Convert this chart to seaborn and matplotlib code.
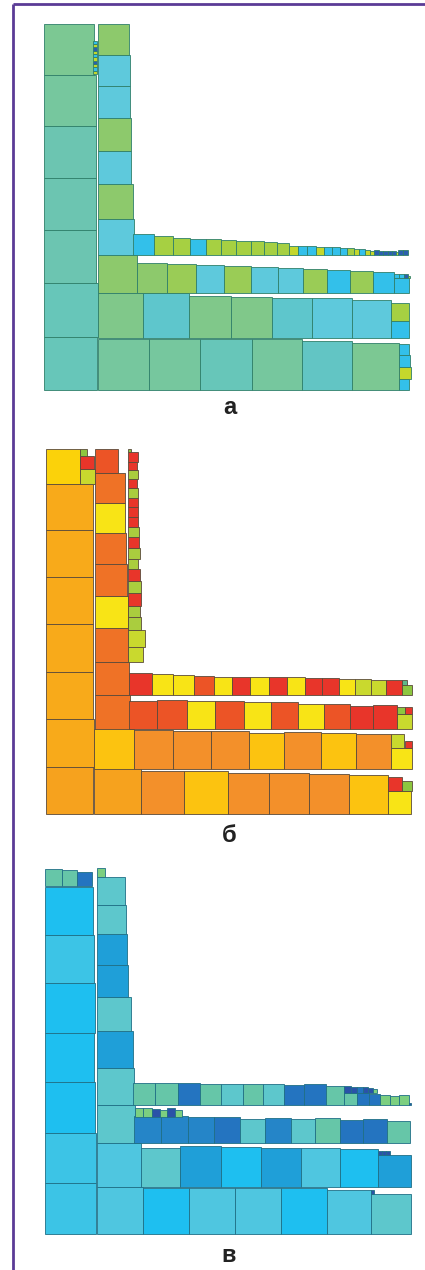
import numpy as np
import matplotlib
matplotlib.use("Agg")
import matplotlib.pyplot as plt
import seaborn as sns

sns.set_theme(style="white")
plt.rcParams['font.family'] = ['Liberation Sans', 'DejaVu Sans']

# ---------------- DATA (square sizes along each strip, colour codes) ----------------
# Panel а
a_colA = [160, 162, 157, 156, 156, 155, 151]
a_colA_c = ['ta', 'ta', 'tb', 'tb', 'tb', 'tg', 'tg2']
a_tiny = [10, 10, 10, 10, 10, 10, 10, 10, 10, 10]
a_tiny_c = ['ye', 'bc', 'ye', 'db', 'ye', 'bc', 'ye', 'db', 'ye', 'bc']
a_colD = [115, 108, 104, 99, 99, 96, 94, 92]
a_colD_c = ['gr', 'cy', 'gr', 'cy', 'gr', 'cy', 'cy', 'gr']
a_row1 = [154, 154, 154, 152, 148, 141]
a_row1_c = ['tg', 'tg', 'ta', 'tg', 'gt', 'tg2']
a_row1_end = [32, 38, 35, 32]
a_row1_end_c = ['bc', 'ye', 'bc', 'bc']
a_row2 = [135, 136, 127, 124, 120, 120, 116]
a_row2_c = ['gl', 'ct', 'gl', 'gl', 'ct', 'cy', 'cy']
a_row2_end = [53, 53]
a_row2_end_c = ['bc', 'yg']
a_row3 = [90, 88, 84, 81, 80, 77, 72, 69, 67, 65]
a_row3_c = ['gr', 'gy', 'cy', 'gy', 'cy', 'cy', 'gy', 'bc', 'gy', 'bc']
a_row3_end = [45]
a_row3_end_c = ['bc']
a_row3_top = [14, 14, 14, 6]
a_row3_top_c = ['bc', 'bc', 'db', 'ye']
a_row4 = [63, 57, 50, 47, 47, 45, 43, 41, 38, 36, 28, 26, 27, 24, 24,
          23, 21, 21, 17, 17, 15, 12, 15, 13, 13, 12, 12, 8, 15, 15]
a_row4_c = ['bc', 'yg', 'yg', 'bc', 'yg', 'yg', 'yg', 'yg', 'yg', 'yg', 'ye', 'bc', 'bc', 'ye', 'bc',
            'bc', 'bc', 'yg', 'ye', 'bc', 'ye', 'ye', 'db', 'db', 'db', 'db', 'db', 'ye', 'db', 'db']

# Panel б
b_colA = [142, 143, 142, 142, 141, 141, 140]
b_colA_c = ['am2', 'am', 'am', 'am', 'am', 'am', 'am']
b_top = [103]
b_top_c = ['gy']
b_top_col = [43, 40, 20]
b_top_col_c = ['yg', 're', 'gr']
b_colB = [104, 101, 100, 98, 95, 93, 91, 90, 70]
b_colB_c = ['or2', 'or2', 'or2', 'ye', 'or2', 'or2', 'ye', 'or2', 'ro']
b_colC = [45, 50, 38, 35, 37, 38, 36, 28, 35, 32, 31, 30, 28, 29, 28, 27, 28, 25, 30, 7]
b_colC_c = ['yg', 'yg', 'lg', 'lg', 're', 'lg', 're', 'lg', 'lg', 're', 'lg', 're', 're', 're',
            'lg', 're', 'lg', 're', 're', 'gr']
b_row1 = [140, 130, 130, 123, 122, 119, 117]
b_row1_c = ['am2', 'or', 'go', 'or', 'or', 'or', 'go']
b_row1_end = [70, 42]
b_row1_end_c = ['ye', 're']
b_row1_bit = [29]
b_row1_bit_c = ['gr']
b_row2 = [118, 117, 114, 114, 107, 109, 106, 104]
b_row2_c = ['go', 'or', 'or', 'or', 'go', 'or', 'go', 'or']
b_row2_end = [63, 40]
b_row2_end_c = ['ye', 'yg']
b_row2_bit = [21]
b_row2_bit_c = ['re']
b_row3 = [85, 88, 85, 86, 82, 82, 77, 77, 71, 72]
b_row3_c = ['ro', 'ro', 'ye', 'ro', 'ye', 'ro', 'ye', 'ro', 're', 're']
b_row3_end = [45]
b_row3_end_c = ['yg']
b_row3_bit = [23, 21]
b_row3_bit_c = ['gr', 're']
b_row4 = [68, 65, 62, 59, 54, 56, 55, 54, 54, 51, 51, 48, 48, 46, 47]
b_row4_c = ['re', 'ye', 'ye', 'ro', 'ye', 're', 'ye', 're', 'ye', 're', 're', 'ye', 'yg', 'yg', 're']
b_row4_end = [31, 15]
b_row4_end_c = ['gr', 'tl']

# Panel в
v_colA = [152, 152, 151, 148, 149, 146, 144]
v_colA_c = ['c1', 'c1', 'c2', 'c2', 'c2', 'c1', 'c2']
v_top = [50, 47, 43]
v_top_c = ['g1', 'g1', 'b2']
v_row1 = [140, 138, 138, 137, 137, 132, 121]
v_row1_c = ['c3', 'c2', 'c3', 'c3', 'c2', 'c3', 'tq']
v_row1_bit = [10]
v_row1_bit_c = ['b3']
v_row2 = [132, 119, 123, 120, 118, 117, 116, 98]
v_row2_c = ['c3', 'tq', 'bl', 'c2', 'bl', 'c3', 'c2', 'bl']
v_row2_bit = [12, 12, 10]
v_row2_bit_c = ['b3', 'b3', 'b3']
v_colB = [115, 112, 110, 103, 95, 92, 88, 85, 26]
v_colB_c = ['tq', 'tq', 'bl', 'tq', 'bl', 'bl', 'tq', 'tq', 'g2']
v_row3 = [81, 81, 78, 78, 74, 77, 72, 75, 71, 72, 68]
v_row3_c = ['bm', 'bm', 'bm', 'b2', 'tq', 'bm', 'tq', 'g1', 'b2', 'b2', 'g1']
v_row3_top = [25, 26, 24, 20, 25, 20]
v_row3_top_c = ['g2', 'g2', 'b3', 'g2', 'b3', 'g2']
v_row4 = [66, 67, 67, 64, 64, 62, 62, 61, 64, 56, 37, 37, 33, 30, 28, 29, 6]
v_row4_c = ['g1', 'g1', 'b2', 'g1', 'tq', 'g1', 'tq', 'b2', 'b2', 'g1', 'g1', 'b2', 'b2',
            'g2', 'g2', 'g2', 'b3']
v_row4_top = [20, 18, 17, 17, 15, 10]
v_row4_top_c = ['b3', 'b3', 'b2', 'b3', 'b3', 'g2']

panel_labels = ['а', 'б', 'в']

# ---------------- STYLE / LAYOUT ----------------
pal_a = {'ta': '#67c6b9', 'tb': '#6cc5b1', 'tg': '#76c79e', 'tg2': '#7cc893', 'gt': '#62c5c4',
         'gl': '#80c88a', 'gr': '#8dc96c', 'gy': '#9acc56', 'cy': '#5ec9dc', 'ct': '#5ec6cc',
         'bc': '#33c0ea', 'yg': '#a6d042', 'ye': '#c4d72c', 'db': '#2a5fae'}
pal_b = {'am': '#f8aa1a', 'am2': '#f6a21e', 'go': '#fcc310', 'gy': '#fbd20a', 'or': '#f3902a',
         'or2': '#ef7226', 'ro': '#ec5426', 're': '#e8352a', 'ye': '#f8e416', 'yg': '#c9d92e',
         'lg': '#aacd3e', 'gr': '#8dc63f', 'tl': '#5fb88a'}
pal_v = {'c1': '#3cc4e6', 'c2': '#1ebff0', 'c3': '#4fc6e0', 'tq': '#5dc7cc', 'bl': '#1f9fd8',
         'bm': '#2585c8', 'b2': '#2474c0', 'b3': '#2a52a8', 'g1': '#66c6a8', 'g2': '#7ccf80'}

# (kind, x0, base, sizes, codes) in panel units (3 units = 1 px)
strips_a = [
    ('col', 132, 1170, a_colA, a_colA_c),
    ('col', 280, 222, a_tiny, a_tiny_c),
    ('col', 295, 880, a_colD, a_colD_c),
    ('row', 293, 1170, a_row1, a_row1_c),
    ('col', 1196, 1170, a_row1_end, a_row1_end_c),
    ('row', 295, 1015, a_row2, a_row2_c),
    ('col', 1173, 1015, a_row2_end, a_row2_end_c),
    ('row', 410, 880, a_row3, a_row3_c),
    ('col', 1183, 880, a_row3_end, a_row3_end_c),
    ('row', 1183, 835, a_row3_top, a_row3_top_c),
    ('row', 400, 765, a_row4, a_row4_c),
]
strips_b = [
    ('col', 138, 1182, b_colA, b_colA_c),
    ('row', 138, 191, b_top, b_top_c),
    ('col', 241, 191, b_top_col, b_top_col_c),
    ('col', 285, 930, b_colB, b_colB_c),
    ('col', 385, 725, b_colC, b_colC_c),
    ('row', 283, 1182, b_row1, b_row1_c),
    ('col', 1164, 1182, b_row1_end, b_row1_end_c),
    ('row', 1207, 1112, b_row1_bit, b_row1_bit_c),
    ('row', 283, 1046, b_row2, b_row2_c),
    ('col', 1172, 1046, b_row2_end, b_row2_end_c),
    ('row', 1215, 983, b_row2_bit, b_row2_bit_c),
    ('row', 387, 928, b_row3, b_row3_c),
    ('col', 1192, 928, b_row3_end, b_row3_end_c),
    ('row', 1192, 883, b_row3_bit, b_row3_bit_c),
    ('row', 387, 826, b_row4, b_row4_c),
    ('col', 1205, 826, b_row4_end, b_row4_end_c),
]
strips_v = [
    ('col', 135, 1152, v_colA, v_colA_c),
    ('row', 135, 108, v_top, v_top_c),
    ('row', 290, 1152, v_row1, v_row1_c),
    ('row', 1112, 1031, v_row1_bit, v_row1_bit_c),
    ('row', 290, 1012, v_row2, v_row2_c),
    ('row', 1135, 914, v_row2_bit, v_row2_bit_c),
    ('col', 290, 880, v_colB, v_colB_c),
    ('row', 403, 880, v_row3, v_row3_c),
    ('row', 405, 800, v_row3_top, v_row3_top_c),
    ('row', 400, 765, v_row4, v_row4_c),
    ('row', 1033, 728, v_row4_top, v_row4_top_c),
]

panels = [
    (0, 420, strips_a, pal_a, '#2f7f6a'),
    (420, 430, strips_b, pal_b, '#5a4a3a'),
    (850, 420, strips_v, pal_v, '#1f6f86'),
]

W, H = 425, 1270
fig = plt.figure(figsize=(W / 100, H / 100), dpi=100)
fig.patch.set_facecolor('white')


def draw_panel(ax, strips, pal, edge):
    for kind, x0, base, sizes, codes in strips:
        s = np.asarray(sizes, dtype=float)
        cols = [pal[c] for c in codes]
        if kind == 'row':
            lefts = x0 + np.concatenate([[0.0], np.cumsum(s)[:-1]])
            ax.bar(lefts, s, width=s, bottom=base - s, align='edge',
                   color=cols, edgecolor=edge, linewidth=0.6)
        else:
            tops = base - np.cumsum(s)
            ax.barh(tops, s, height=s, left=x0, align='edge',
                    color=cols, edgecolor=edge, linewidth=0.6)


for y0, h, strips, pal, edge in panels:
    ax = fig.add_axes([0, 1 - (y0 + h) / H, 1, h / H])
    draw_panel(ax, strips, pal, edge)
    ax.set_xlim(0, W * 3)
    ax.set_ylim(h * 3, 0)
    ax.axis('off')

# overlay: frame and panel letters
ov = fig.add_axes([0, 0, 1, 1])
ov.set_xlim(0, W)
ov.set_ylim(H, 0)
ov.axis('off')
ov.plot([13, 13], [4, H], color='#5b3b96', lw=2.0, solid_capstyle='butt')
ov.plot([13, W], [4, 4], color='#5b3b96', lw=2.0, solid_capstyle='butt')
for lab, (lx, ly) in zip(panel_labels, [(230, 414), (229, 842), (229, 1262)]):
    ov.text(lx, ly, lab, ha='center', va='baseline', fontsize=17, fontweight='bold', color='#222222')

fig.savefig('out.png', dpi=100)
